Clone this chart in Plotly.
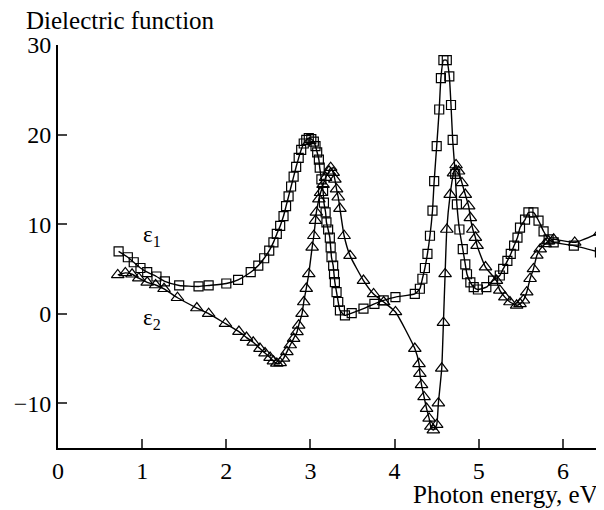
import plotly.graph_objects as go

# epsilon_1 (squares)
eps1_x = [0.72, 0.83, 0.90, 0.98, 1.06, 1.17, 1.27, 1.44, 1.67, 1.79, 2.00, 2.14, 2.29, 2.38, 2.45,
          2.51, 2.56, 2.60, 2.64, 2.68, 2.71, 2.74, 2.77, 2.80, 2.83, 2.86, 2.89, 2.92, 2.95, 2.98,
          3.01, 3.04, 3.06, 3.08, 3.10, 3.11, 3.13, 3.15, 3.16, 3.18, 3.19, 3.21, 3.23, 3.24, 3.25,
          3.27, 3.28, 3.29, 3.31, 3.33, 3.35, 3.41, 3.49, 3.63, 3.76, 3.87, 4.01, 4.24, 4.30, 4.33,
          4.36, 4.39, 4.42, 4.45, 4.47, 4.50, 4.53, 4.55, 4.58, 4.62, 4.65, 4.67, 4.69, 4.72, 4.74,
          4.77, 4.81, 4.84, 4.86, 4.90, 4.94, 4.99, 5.09, 5.17, 5.25, 5.29, 5.34, 5.38, 5.42, 5.46,
          5.49, 5.55, 5.59, 5.65, 5.71, 5.77, 5.83, 5.89, 6.13, 6.44]
eps1_y = [6.96, 6.3, 5.74, 5.1, 4.63, 4.15, 3.6, 3.15, 3.04, 3.15, 3.37, 3.78, 4.63, 5.37, 6.19,
          7.04, 7.96, 8.9, 9.8, 10.9, 12.0, 13.1, 14.2, 15.3, 16.4, 17.4, 18.3, 19.0, 19.4, 19.6,
          19.5, 19.2, 18.7, 18.0, 17.2, 16.3, 15.0, 13.7, 12.4, 11.3, 10.2, 9.4, 8.5, 7.4, 6.3,
          5.37, 4.4, 3.52, 2.4, 1.3, 0.37, -0.19, 0.07, 0.56, 1.1, 1.48, 1.85, 2.2, 2.78, 3.9,
          5.1, 6.67, 8.7, 11.5, 14.8, 18.7, 22.8, 26.3, 28.3, 28.3, 26.5, 23.3, 19.4, 15.6, 12.2,
          9.4, 7.2, 5.5, 4.4, 3.5, 2.96, 2.7, 2.96, 3.7, 4.26, 5.0, 5.9, 6.67, 7.6, 8.5,
          9.6, 10.5, 11.3, 11.3, 10.4, 9.2, 8.3, 7.96, 7.6, 6.85]

# epsilon_2 (triangles)
eps2_x = [0.71, 0.80, 0.88, 0.96, 1.06, 1.16, 1.26, 1.42, 1.65, 1.79, 1.99, 2.15, 2.24, 2.32, 2.40,
          2.46, 2.52, 2.56, 2.60, 2.64, 2.68, 2.72, 2.76, 2.80, 2.84, 2.86, 2.90, 2.92, 2.95, 2.98,
          3.02, 3.04, 3.06, 3.07, 3.10, 3.12, 3.15, 3.18, 3.22, 3.24, 3.27, 3.29, 3.31, 3.33, 3.35,
          3.40, 3.47, 3.63, 3.75, 3.87, 4.01, 4.24, 4.29, 4.30, 4.32, 4.35, 4.38, 4.41, 4.43, 4.46,
          4.50, 4.52, 4.56, 4.58, 4.60, 4.62, 4.66, 4.70, 4.73, 4.76, 4.80, 4.84, 4.88, 4.90, 4.93,
          4.96, 4.98, 5.08, 5.21, 5.25, 5.31, 5.37, 5.45, 5.49, 5.53, 5.57, 5.61, 5.65, 5.69, 5.73,
          5.79, 5.83, 5.89, 6.14, 6.44]
eps2_y = [4.33, 4.55, 4.4, 3.96, 3.5, 3.2, 2.78, 1.78, 0.63, 0.0, -1.11, -2.0, -2.67, -3.2, -3.9,
          -4.4, -4.9, -5.3, -5.55, -5.5, -5.0, -4.26, -3.5, -2.78, -2.04, -1.3, 0.0, 1.3, 2.8, 4.44,
          7.4, 8.7, 10.4, 11.3, 12.8, 13.5, 14.4, 15.2, 15.9, 16.3, 15.74, 15.0, 13.9, 13.0, 11.74,
          8.7, 6.48, 3.7, 2.2, 1.3, 0.19, -3.9, -5.6, -6.7, -7.96, -9.3, -10.6, -11.7, -12.6, -13.0,
          -12.4, -10.0, -6.1, -1.0, 4.44, 9.4, 13.3, 15.7, 16.6, 15.9, 14.6, 13.3, 12.0, 10.7, 9.4,
          8.5, 7.6, 5.2, 3.7, 2.6, 1.85, 1.3, 0.93, 1.1, 1.5, 2.4, 3.9, 5.0, 6.5, 7.2,
          7.8, 8.1, 8.3, 7.96, 9.07]

x_ticks = [0, 1, 2, 3, 4, 5, 6]
y_ticks = [-10, 0, 10, 20, 30]
y_ticklabels = ['\u221210', '0', '10', '20', '30']

font_name = 'Liberation Serif'
fsize = 24      # tick labels
tsize = 25      # axis titles

fig = go.Figure()
fig.add_trace(go.Scatter(
    x=eps1_x, y=eps1_y, mode='lines+markers',
    line=dict(color='black', width=1.4, shape='spline', smoothing=0.5),
    marker=dict(symbol='square-open', size=9, color='black', line=dict(width=1.2)),
    showlegend=False))
fig.add_trace(go.Scatter(
    x=eps2_x, y=eps2_y, mode='lines+markers',
    line=dict(color='black', width=1.4, shape='spline', smoothing=0.5),
    marker=dict(symbol='triangle-up-open', size=11, color='black', line=dict(width=1.2)),
    showlegend=False))

# curve labels
fig.add_annotation(x=1.12, y=8.7, text='\u03b5<sub>1</sub>', showarrow=False,
                   font=dict(family=font_name, size=23, color='black'))
fig.add_annotation(x=1.12, y=-0.6, text='\u03b5<sub>2</sub>', showarrow=False,
                   font=dict(family=font_name, size=23, color='black'))

# axis titles
fig.add_annotation(xref='paper', yref='paper', x=-0.062, y=1.061, xanchor='left', yanchor='middle',
                   text='Dielectric function', showarrow=False,
                   font=dict(family=font_name, size=tsize, color='black'))
fig.add_annotation(xref='paper', yref='paper', x=0.99, y=-0.116, xanchor='right', yanchor='middle',
                   text='Photon energy, eV', showarrow=False,
                   font=dict(family=font_name, size=tsize, color='black'))

# page body has an 8px margin, so the margins are shifted to compensate
fig.update_layout(
    width=604, height=510,
    margin=dict(l=50, r=7, t=37, b=70),
    paper_bgcolor='white', plot_bgcolor='white',
    font=dict(family=font_name, size=fsize, color='black'),
    xaxis=dict(range=[0, 6.5], tickvals=x_ticks, ticks='inside', ticklen=9, tickwidth=2,
               showline=True, linecolor='black', linewidth=2, showgrid=False, zeroline=False,
               tickfont=dict(family=font_name, size=fsize, color='black')),
    yaxis=dict(range=[-15, 30], tickvals=y_ticks, ticktext=y_ticklabels, ticks='inside',
               ticklen=9, tickwidth=2, showline=True, linecolor='black', linewidth=2,
               showgrid=False, zeroline=False,
               tickfont=dict(family=font_name, size=fsize, color='black')),
)

fig.write_html("out.html")
